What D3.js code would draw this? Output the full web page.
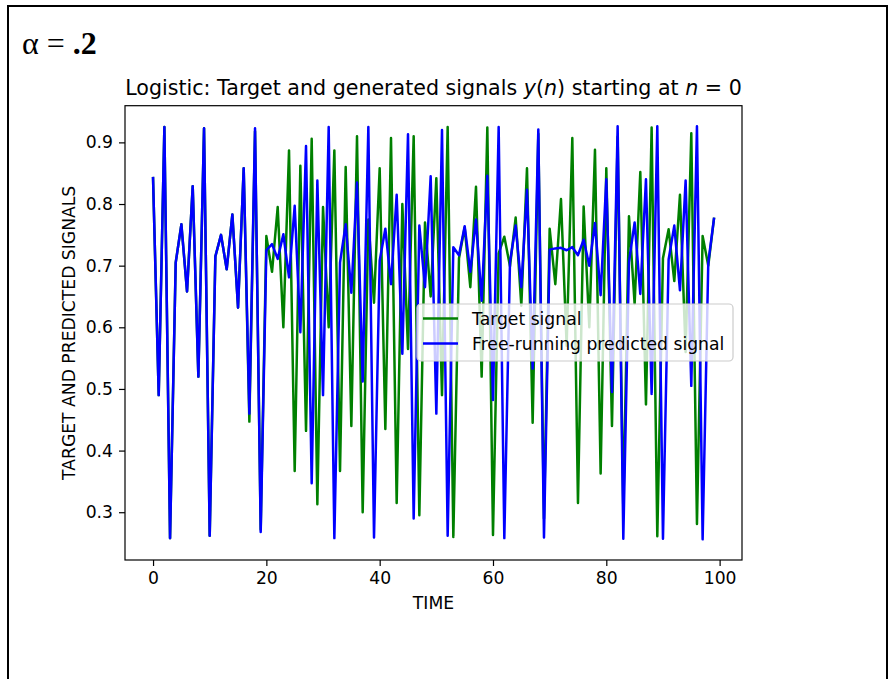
<!DOCTYPE html>
<html>
<head>
<meta charset="utf-8">
<script src="https://cdn.jsdelivr.net/npm/d3@7"></script>
<style>
  html, body { margin: 0; padding: 0; background: #fff; }
  svg { display: block; }
</style>
</head>
<body>
<svg id="chart" width="896" height="679"></svg>
<script>
// ---------------- data ----------------
const timeSteps = d3.range(0, 100);
const targetSignal = [
  0.842, 0.49, 0.925, 0.258, 0.705, 0.767, 0.658, 0.829, 0.52, 0.923,
  0.262, 0.715, 0.75, 0.694, 0.783, 0.632, 0.858, 0.447, 0.918, 0.272,
  0.748, 0.69, 0.795, 0.60, 0.887, 0.367, 0.862, 0.432, 0.906, 0.313,
  0.795, 0.60, 0.887, 0.367, 0.86, 0.44, 0.91, 0.30, 0.775, 0.64,
  0.858, 0.435, 0.907, 0.315, 0.80, 0.565, 0.91, 0.295, 0.77, 0.65,
  0.842, 0.49, 0.925, 0.26, 0.712, 0.762, 0.665, 0.828, 0.52, 0.924,
  0.263, 0.72, 0.747, 0.699, 0.778, 0.635, 0.858, 0.445, 0.914, 0.29,
  0.76, 0.67, 0.808, 0.57, 0.907, 0.315, 0.796, 0.60, 0.888, 0.363,
  0.858, 0.44, 0.909, 0.305, 0.78, 0.638, 0.852, 0.475, 0.924, 0.261,
  0.712, 0.759, 0.675, 0.815, 0.56, 0.915, 0.281, 0.748, 0.70, 0.776
];
const predictedSignal = [
  0.842, 0.49, 0.925, 0.258, 0.705, 0.767, 0.658, 0.829, 0.52, 0.923,
  0.262, 0.715, 0.75, 0.694, 0.783, 0.632, 0.858, 0.46, 0.923, 0.268,
  0.725, 0.735, 0.711, 0.751, 0.681, 0.797, 0.592, 0.894, 0.347, 0.838,
  0.49, 0.925, 0.258, 0.705, 0.767, 0.656, 0.835, 0.512, 0.925, 0.259,
  0.708, 0.76, 0.67, 0.815, 0.557, 0.913, 0.29, 0.765, 0.665, 0.845,
  0.46, 0.92, 0.262, 0.73, 0.717, 0.764, 0.69, 0.775, 0.643, 0.846,
  0.482, 0.925, 0.258, 0.706, 0.765, 0.665, 0.823, 0.533, 0.921, 0.259,
  0.726, 0.728, 0.729, 0.725, 0.73, 0.717, 0.742, 0.70, 0.769, 0.652,
  0.84, 0.495, 0.926, 0.257, 0.706, 0.77, 0.654, 0.84, 0.492, 0.926,
  0.257, 0.71, 0.765, 0.66, 0.838, 0.505, 0.926, 0.256, 0.705, 0.776
];
const xTicks = [0, 20, 40, 60, 80, 100];
const yTicks = [0.3, 0.4, 0.5, 0.6, 0.7, 0.8, 0.9];
const seriesNames = ["Target signal", "Free-running predicted signal"];
const seriesColors = ["#008000", "#0000ff"];

// ---------------- layout ----------------
const svg = d3.select("#chart");
const FONT = "'DejaVu Sans', sans-serif";
const plot = { left: 125, right: 742, top: 105.7, bottom: 560 };

svg.append("rect").attr("x", 0).attr("y", 0).attr("width", 896).attr("height", 679).attr("fill", "#fff");
// page frame
svg.append("rect").attr("x", 8).attr("y", 6).attr("width", 879).attr("height", 720)
  .attr("fill", "none").attr("stroke", "#000").attr("stroke-width", 2);

// alpha heading
const head = svg.append("text").attr("x", 22).attr("y", 54)
  .attr("font-family", "'Liberation Serif', 'Times New Roman', serif")
  .attr("font-size", 32).attr("fill", "#000");
head.append("tspan").text("α = ");
head.append("tspan").attr("font-weight", "bold").text(".2");

// scales with matplotlib-like 5% margins
const n0 = d3.min(timeSteps), n1 = d3.max(timeSteps);
const xPad = (n1 - n0) * 0.05;
const allVals = targetSignal.concat(predictedSignal);
const vMin = d3.min(allVals), vMax = d3.max(allVals);
const yPad = (vMax - vMin) * 0.05;
const x = d3.scaleLinear().domain([n0 - xPad, n1 + xPad]).range([plot.left, plot.right]);
const y = d3.scaleLinear().domain([vMin - yPad, vMax + yPad]).range([plot.bottom, plot.top]);

// lines
const g = svg.append("g");
const clipId = "plotclip";
svg.append("clipPath").attr("id", clipId).append("rect")
  .attr("x", plot.left).attr("y", plot.top)
  .attr("width", plot.right - plot.left).attr("height", plot.bottom - plot.top);

const line = d3.line().x((d, i) => x(timeSteps[i])).y(d => y(d));
[targetSignal, predictedSignal].forEach((s, k) => {
  g.append("path").datum(s)
    .attr("clip-path", `url(#${clipId})`)
    .attr("d", line)
    .attr("fill", "none")
    .attr("stroke", seriesColors[k])
    .attr("stroke-width", 2.5)
    .attr("stroke-linejoin", "round")
    .attr("stroke-linecap", "square");
});

// axes
const xAxis = d3.axisBottom(x).tickValues(xTicks).tickFormat(d3.format("d"))
  .tickSizeInner(6).tickSizeOuter(0).tickPadding(6);
const yAxis = d3.axisLeft(y).tickValues(yTicks).tickFormat(d3.format(".1f"))
  .tickSizeInner(6).tickSizeOuter(0).tickPadding(6);

const gx = svg.append("g").attr("transform", `translate(0,${plot.bottom})`).call(xAxis);
const gy = svg.append("g").attr("transform", `translate(${plot.left},0)`).call(yAxis);
[gx, gy].forEach(a => {
  a.select(".domain").remove();
  a.selectAll(".tick line").attr("stroke", "#000").attr("stroke-width", 1.2);
  a.selectAll(".tick text").attr("font-family", FONT).attr("font-size", 17.2).attr("fill", "#000");
});

// frame (spines)
svg.append("rect").attr("x", plot.left).attr("y", plot.top)
  .attr("width", plot.right - plot.left).attr("height", plot.bottom - plot.top)
  .attr("fill", "none").attr("stroke", "#000").attr("stroke-width", 1.2);

// axis labels
svg.append("text").attr("x", (plot.left + plot.right) / 2).attr("y", 609)
  .attr("text-anchor", "middle").attr("font-family", FONT).attr("font-size", 17.2)
  .attr("fill", "#000").text("TIME");
svg.append("text")
  .attr("transform", `translate(75,${(plot.top + plot.bottom) / 2}) rotate(-90)`)
  .attr("text-anchor", "middle").attr("font-family", FONT).attr("font-size", 17.2)
  .attr("fill", "#000").text("TARGET AND PREDICTED SIGNALS");

// title
const title = svg.append("text").attr("x", (plot.left + plot.right) / 2).attr("y", 95)
  .attr("text-anchor", "middle").attr("font-family", FONT).attr("font-size", 20.6).attr("fill", "#000");
title.append("tspan").text("Logistic: Target and generated signals ");
title.append("tspan").attr("font-style", "italic").text("y");
title.append("tspan").text("(");
title.append("tspan").attr("font-style", "italic").text("n");
title.append("tspan").text(") starting at ");
title.append("tspan").attr("font-style", "italic").text("n");
title.append("tspan").text(" = 0");

// legend
const leg = svg.append("g");
leg.append("rect").attr("x", 417).attr("y", 304).attr("width", 316).attr("height", 57)
  .attr("rx", 4).attr("fill", "#fff").attr("fill-opacity", 0.8)
  .attr("stroke", "#cccccc").attr("stroke-width", 1.2);
seriesNames.forEach((name, k) => {
  const ly = 318.5 + k * 25;
  leg.append("line").attr("x1", 423).attr("x2", 458).attr("y1", ly).attr("y2", ly)
    .attr("stroke", seriesColors[k]).attr("stroke-width", 2.5);
  leg.append("text").attr("x", 472).attr("y", ly + 6)
    .attr("font-family", FONT).attr("font-size", 17.2).attr("fill", "#000").text(name);
});
</script>
</body>
</html>
